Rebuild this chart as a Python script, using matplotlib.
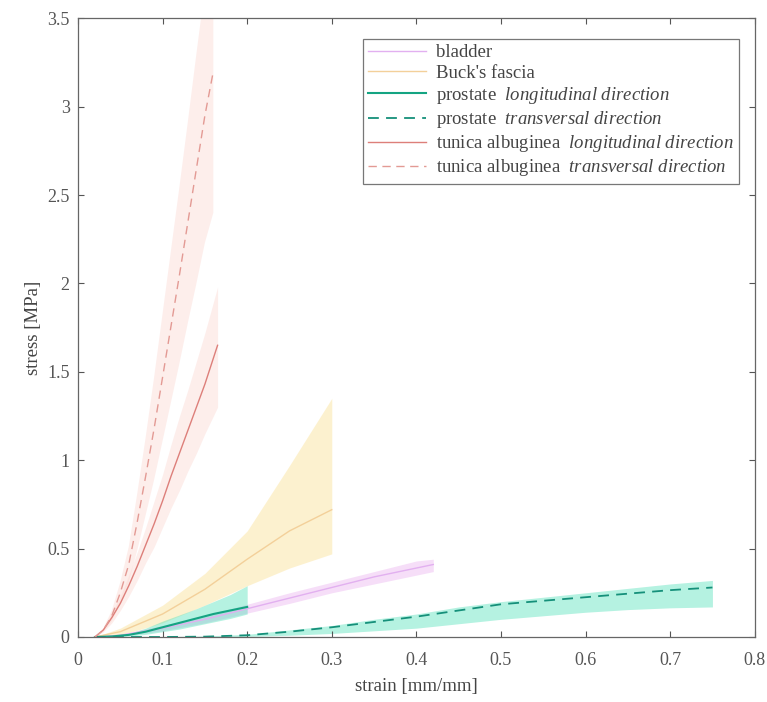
import matplotlib
matplotlib.use("Agg")
import matplotlib.pyplot as plt
import numpy as np

plt.rcParams['font.family'] = ['Liberation Serif', 'DejaVu Serif']
plt.rcParams['mathtext.fontset'] = 'custom'
plt.rcParams['mathtext.rm'] = 'Liberation Serif'
plt.rcParams['mathtext.it'] = 'Liberation Serif:italic'

# ---------------- data ----------------
# tunica albuginea, longitudinal
ta_l_x = [0.02, 0.03, 0.04, 0.05, 0.06, 0.07, 0.08, 0.09, 0.10, 0.11, 0.12, 0.13, 0.14, 0.15, 0.165]
ta_l_y = [0.0, 0.04, 0.11, 0.19, 0.29, 0.40, 0.52, 0.64, 0.77, 0.91, 1.04, 1.17, 1.30, 1.43, 1.65]
ta_l_lo = [0.0, 0.03, 0.08, 0.15, 0.23, 0.32, 0.42, 0.51, 0.62, 0.73, 0.83, 0.94, 1.04, 1.15, 1.30]
ta_l_hi = [0.0, 0.05, 0.14, 0.23, 0.35, 0.48, 0.62, 0.77, 0.92, 1.09, 1.25, 1.40, 1.56, 1.72, 1.98]

# tunica albuginea, transversal
ta_t_x = [0.02, 0.03, 0.04, 0.05, 0.06, 0.07, 0.08, 0.09, 0.10, 0.11, 0.12, 0.13, 0.14, 0.15, 0.16]
ta_t_y = [0.0, 0.04, 0.12, 0.25, 0.41, 0.65, 0.91, 1.18, 1.47, 1.76, 2.05, 2.35, 2.65, 2.95, 3.20]
ta_t_lo = [0.0, 0.03, 0.09, 0.19, 0.31, 0.49, 0.69, 0.89, 1.11, 1.33, 1.55, 1.78, 2.00, 2.23, 2.40]
ta_t_hi = [0.0, 0.05, 0.15, 0.31, 0.51, 0.81, 1.13, 1.47, 1.83, 2.19, 2.55, 2.92, 3.30, 3.67, 3.98]

# Buck's fascia
bf_x = [0.02, 0.05, 0.10, 0.15, 0.20, 0.25, 0.30]
bf_y = [0.0, 0.03, 0.13, 0.27, 0.44, 0.60, 0.72]
bf_lo = [0.0, 0.01, 0.08, 0.18, 0.29, 0.39, 0.47]
bf_hi = [0.0, 0.05, 0.18, 0.36, 0.60, 0.97, 1.35]

# bladder
bl_x = [0.02, 0.05, 0.10, 0.15, 0.20, 0.25, 0.30, 0.35, 0.40, 0.42]
bl_y = [0.0, 0.01, 0.05, 0.10, 0.16, 0.22, 0.28, 0.34, 0.39, 0.41]
bl_lo = [0.0, 0.005, 0.035, 0.08, 0.135, 0.19, 0.25, 0.30, 0.35, 0.37]
bl_hi = [0.0, 0.015, 0.065, 0.12, 0.185, 0.25, 0.31, 0.37, 0.43, 0.44]

# prostate, longitudinal
pr_l_x = [0.02, 0.04, 0.06, 0.08, 0.10, 0.12, 0.14, 0.16, 0.18, 0.20]
pr_l_y = [0.0, 0.003, 0.012, 0.03, 0.055, 0.08, 0.105, 0.13, 0.15, 0.17]
pr_l_lo = [0.0, 0.001, 0.005, 0.015, 0.03, 0.045, 0.065, 0.085, 0.105, 0.13]
pr_l_hi = [0.0, 0.006, 0.02, 0.05, 0.09, 0.125, 0.16, 0.20, 0.24, 0.29]

# prostate, transversal
pr_t_x = [0.02, 0.10, 0.15, 0.20, 0.25, 0.30, 0.35, 0.40, 0.45, 0.50, 0.55, 0.60, 0.65, 0.70, 0.75]
pr_t_y = [0.0, 0.0, 0.002, 0.01, 0.03, 0.055, 0.085, 0.115, 0.15, 0.185, 0.205, 0.225, 0.245, 0.265, 0.28]
pr_t_lo = [0.0, 0.0, 0.0, 0.003, 0.01, 0.02, 0.035, 0.05, 0.075, 0.10, 0.12, 0.14, 0.155, 0.165, 0.17]
pr_t_hi = [0.0, 0.002, 0.006, 0.015, 0.04, 0.065, 0.10, 0.13, 0.17, 0.20, 0.225, 0.25, 0.275, 0.30, 0.32]

x_ticks = [0, 0.1, 0.2, 0.3, 0.4, 0.5, 0.6, 0.7, 0.8]
x_ticklabels = ['0', '0.1', '0.2', '0.3', '0.4', '0.5', '0.6', '0.7', '0.8']
y_ticks = [0, 0.5, 1, 1.5, 2, 2.5, 3, 3.5]
y_ticklabels = ['0', '0.5', '1', '1.5', '2', '2.5', '3', '3.5']

# ---------------- plot ----------------
fig = plt.figure(figsize=(7.67, 7.02), dpi=100)
ax = fig.add_axes([0.1017, 0.0926, 0.8823, 0.8814])

c_ta_fill = '#fbd5cf'
c_bf_fill = '#fbe4a0'
c_bl_fill = '#efc3f3'
c_pr_fill = '#4fe0b8'

ax.fill_between(ta_t_x, ta_t_lo, ta_t_hi, color=c_ta_fill, alpha=0.4, lw=0)
ax.fill_between(ta_l_x, ta_l_lo, ta_l_hi, color=c_ta_fill, alpha=0.4, lw=0)
ax.fill_between(bf_x, bf_lo, bf_hi, color=c_bf_fill, alpha=0.5, lw=0)
ax.fill_between(bl_x, bl_lo, bl_hi, color=c_bl_fill, alpha=0.55, lw=0)
ax.fill_between(pr_l_x, pr_l_lo, pr_l_hi, color=c_pr_fill, alpha=0.42, lw=0)
ax.fill_between(pr_t_x, pr_t_lo, pr_t_hi, color=c_pr_fill, alpha=0.42, lw=0)

ax.plot(bl_x, bl_y, color='#e2b0f0', lw=1.0, label='bladder')
ax.plot(bf_x, bf_y, color='#f3d09a', lw=1.0, label="Buck's fascia")
ax.plot(pr_l_x, pr_l_y, color='#14a482', lw=1.5,
        label=r'prostate  $\mathit{longitudinal\ direction}$')
ax.plot(pr_t_x, pr_t_y, color='#15907a', lw=1.3, ls=(0, (6, 4)),
        label=r'prostate  $\mathit{transversal\ direction}$')
ax.plot(ta_l_x, ta_l_y, color='#dd7f7a', lw=1.0,
        label=r'tunica albuginea  $\mathit{longitudinal\ direction}$')
ax.plot(ta_t_x, ta_t_y, color='#e39a94', lw=1.0, ls=(0, (6, 4)),
        label=r'tunica albuginea  $\mathit{transversal\ direction}$')

ax.set_xlim(0, 0.8)
ax.set_ylim(0, 3.5)
ax.set_xticks(x_ticks)
ax.set_xticklabels(x_ticklabels)
ax.set_yticks(y_ticks)
ax.set_yticklabels(y_ticklabels)
ax.tick_params(direction='in', top=True, right=True, labelsize=13,
               colors='#555555', length=4, width=0.8)
ax.tick_params(axis='x', pad=11)
ax.tick_params(axis='y', pad=6)
for sp in ax.spines.values():
    sp.set_color('#666666')
    sp.set_linewidth(0.9)

ax.set_xlabel('strain [mm/mm]', fontsize=13.5, color='#444444', labelpad=6)
ax.set_ylabel('stress [MPa]', fontsize=13.5, color='#444444', labelpad=4)

leg = ax.legend(loc='upper right', bbox_to_anchor=(0.977, 0.967), fontsize=13.5,
                frameon=True, fancybox=False, edgecolor='#555555',
                handlelength=3.1, labelspacing=0.17, borderpad=0.3,
                handletextpad=0.5, borderaxespad=0)
leg.get_frame().set_linewidth(0.9)
for t in leg.get_texts():
    t.set_color('#444444')

fig.savefig('out.png', dpi=100)
